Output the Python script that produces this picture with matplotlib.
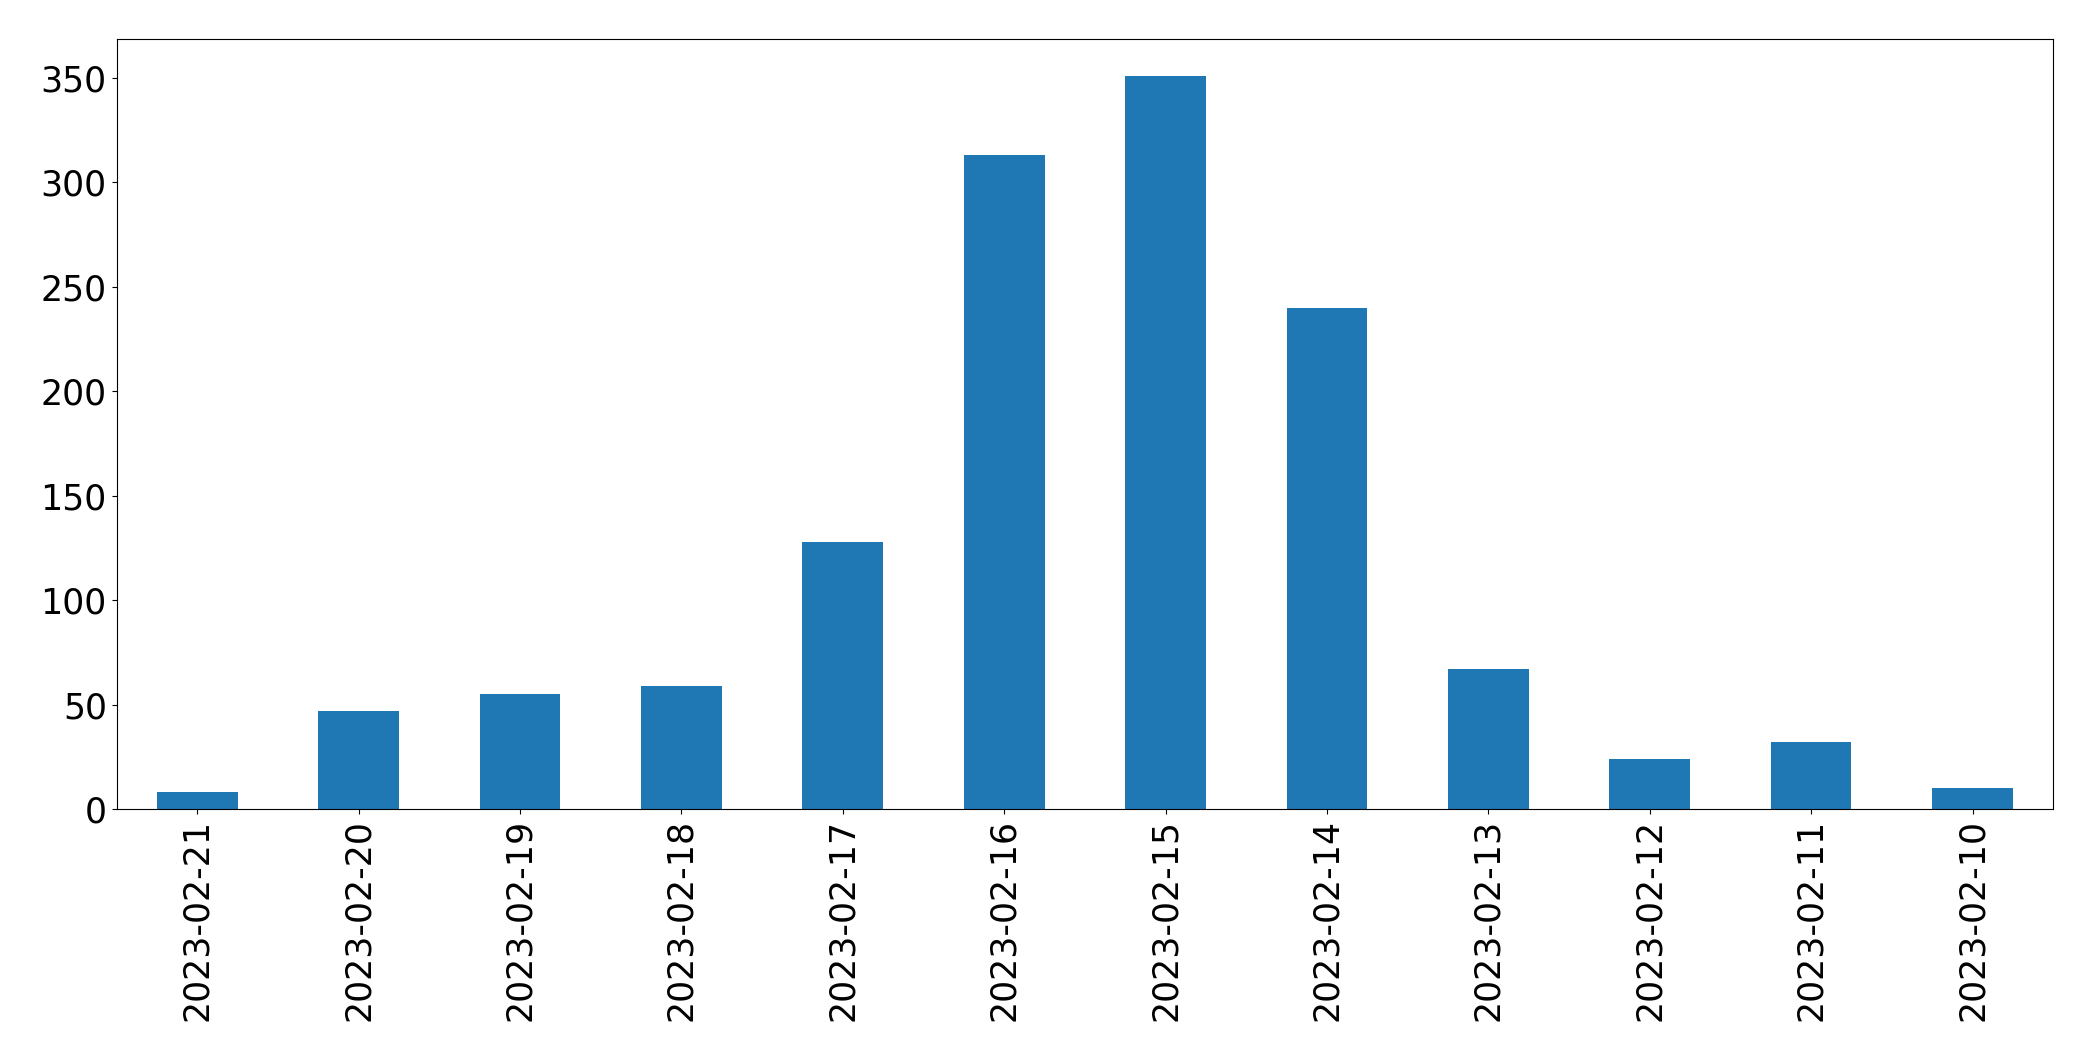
import matplotlib
matplotlib.use('Agg')
import matplotlib.pyplot as plt

dates = ['2023-02-21', '2023-02-20', '2023-02-19', '2023-02-18', '2023-02-17', '2023-02-16',
         '2023-02-15', '2023-02-14', '2023-02-13', '2023-02-12', '2023-02-11', '2023-02-10']
counts = [8, 47, 55, 59, 128, 313, 351, 240, 67, 24, 32, 10]

fig = plt.figure(figsize=(20.93, 10.61), dpi=100)
ax = fig.add_axes([0.0557, 0.2375, 0.9253, 0.7255])

x = range(len(dates))
ax.bar(x, counts, width=0.5, color='#1f77b4')
ax.set_xlim(-0.5, len(dates) - 0.5)
ax.set_xticks(list(x))
ax.set_xticklabels(dates, rotation=90)
ax.tick_params(labelsize=25)

fig.savefig('out.png', dpi=100)
